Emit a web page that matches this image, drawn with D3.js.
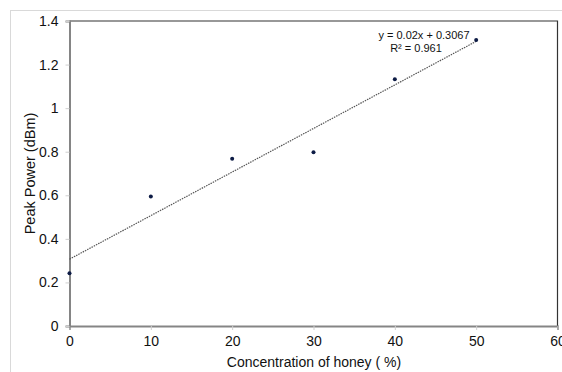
<!DOCTYPE html>
<html>
<head>
<meta charset="utf-8">
<script src="https://cdn.jsdelivr.net/npm/d3@7"></script>
<style>
  body { margin: 0; background: #fff; }
  svg { display: block; font-family: "Liberation Sans", Arial, sans-serif; }
</style>
</head>
<body>
<svg id="chart" width="562" height="372"></svg>
<script>
// honey concentration (%) vs peak power (dBm)
var concentration = [0, 10, 20, 30, 40, 50];
var peakPower = [0.242, 0.595, 0.768, 0.797, 1.133, 1.313];
var xTicks = [0, 10, 20, 30, 40, 50, 60];
var yTicks = [0, 0.2, 0.4, 0.6, 0.8, 1, 1.2, 1.4];
var trend = {slope: 0.02, intercept: 0.3067, r2: "0.961"};

var width = 562,
    height = 372;

var margin = {left: 69.5, right: 4.5, top: 21, bottom: 46};

var svg = d3.select("#chart");

// outer chart frame
svg.append("rect")
  .attr("x", 10.5)
  .attr("y", 10.5)
  .attr("width", width)
  .attr("height", height)
  .style("fill", "none")
  .style("stroke", "#d9d9d9")
  .style("stroke-width", 1);

var x = d3.scaleLinear()
  .domain([0, 60])
  .range([margin.left, width - margin.right]);

var y = d3.scaleLinear()
  .domain([0, 1.4])
  .range([height - margin.bottom, margin.top]);

// plot frame top and right
svg.append("path")
  .attr("d", "M" + x(0) + "," + y(1.4) + "H" + x(60) + "V" + y(0))
  .style("fill", "none")
  .style("stroke", "#333")
  .style("stroke-width", 1.2);

var xAxis = svg.append("g")
  .attr("transform", "translate(0," + y(0) + ")")
  .call(d3.axisBottom(x).tickValues(xTicks).tickSize(4).tickPadding(6)
    .tickFormat(d3.format("d")));

var yAxis = svg.append("g")
  .attr("transform", "translate(" + x(0) + ",0)")
  .call(d3.axisLeft(y).tickValues(yTicks).tickSize(4).tickPadding(7)
    .tickFormat(function(d) { return d3.format("")(+d.toFixed(1)); }));

[xAxis, yAxis].forEach(function(a) {
  a.select(".domain").style("stroke", "#858585").style("stroke-width", 2);
  a.selectAll(".tick line").style("stroke", "#cfcfcf");
  a.selectAll(".tick text")
    .style("font-size", "14px")
    .style("fill", "#111")
    .style("font-family", "Liberation Sans, Arial, sans-serif");
});

// linear trendline over the data range
var trendX = d3.extent(concentration);
svg.append("line")
  .attr("x1", x(trendX[0]))
  .attr("y1", y(trend.slope * trendX[0] + trend.intercept))
  .attr("x2", x(trendX[1]))
  .attr("y2", y(trend.slope * trendX[1] + trend.intercept))
  .style("stroke", "#555")
  .style("stroke-width", 1.2)
  .style("stroke-dasharray", "1.5,1");

svg.selectAll("circle.pt")
  .data(concentration)
  .enter().append("circle")
  .attr("class", "pt")
  .attr("cx", function(d) { return x(d); })
  .attr("cy", function(d, i) { return y(peakPower[i]); })
  .attr("r", 2)
  .style("fill", "#0d1b45");

// equation label
var eq = svg.append("text")
  .attr("x", 424)
  .attr("y", 39)
  .attr("text-anchor", "middle")
  .style("font-size", "11px")
  .style("fill", "#111");
eq.text("y = " + trend.slope + "x + " + trend.intercept);

svg.append("text")
  .attr("x", 416)
  .attr("y", 52)
  .attr("text-anchor", "middle")
  .style("font-size", "11px")
  .style("fill", "#111")
  .text("R\u00b2 = " + trend.r2);

// axis titles
svg.append("text")
  .attr("x", 314)
  .attr("y", 367)
  .attr("text-anchor", "middle")
  .style("font-size", "14px")
  .style("fill", "#111")
  .text("Concentration of honey ( %)");

svg.append("text")
  .attr("transform", "translate(35," + y(0.7) + ") rotate(-90)")
  .attr("text-anchor", "middle")
  .style("font-size", "14.5px")
  .style("fill", "#111")
  .text("Peak Power (dBm)");
</script>
</body>
</html>
